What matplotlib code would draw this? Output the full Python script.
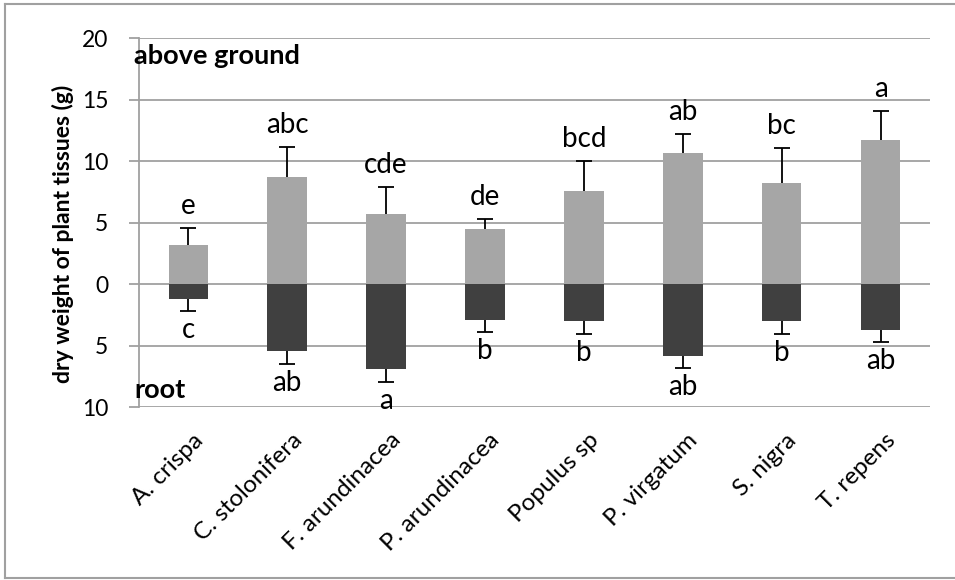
import matplotlib.pyplot as plt
import matplotlib.transforms as mtransforms
from matplotlib.lines import Line2D
import numpy as np

plt.rcParams['font.family'] = ['Lato', 'DejaVu Sans']

species = ["A. crispa", "C. stolonifera", "F. arundinacea", "P. arundinacea",
           "Populus sp", "P. virgatum", "S. nigra", "T. repens"]
above = [3.2, 8.7, 5.7, 4.5, 7.6, 10.7, 8.2, 11.7]
above_err = [1.4, 2.5, 2.2, 0.8, 2.4, 1.5, 2.9, 2.4]
root = [1.2, 5.4, 6.9, 2.9, 3.0, 5.8, 3.0, 3.7]
root_err = [1.0, 1.1, 1.0, 1.0, 1.0, 1.0, 1.0, 1.0]
above_letters = ["e", "abc", "cde", "de", "bcd", "ab", "bc", "a"]
root_letters = ["c", "ab", "a", "b", "b", "ab", "b", "ab"]

fig = plt.figure(figsize=(9.55, 5.8), dpi=100)
ax = fig.add_axes([0.1455, 0.2977, 0.8283, 0.6363])

x = np.arange(len(species))
neg_root = -np.array(root)
ax.bar(x, above, width=0.4, color='#a6a6a6', zorder=2)
ax.bar(x, neg_root, width=0.4, color='#404040', zorder=2)

# one-sided error bars, cap only at the far end
zero = np.zeros(len(x))
eb1 = ax.errorbar(x, above, yerr=[zero, above_err], fmt='none', ecolor='black',
                  elinewidth=1.3, capsize=5.5, capthick=1.3, zorder=3)
eb1[1][0].set_visible(False)
eb2 = ax.errorbar(x, neg_root, yerr=[root_err, zero], fmt='none', ecolor='black',
                  elinewidth=1.3, capsize=5.5, capthick=1.3, zorder=3)
eb2[1][1].set_visible(False)

up = mtransforms.offset_copy(ax.transData, fig=fig, x=0, y=14, units='dots')
down = mtransforms.offset_copy(ax.transData, fig=fig, x=0, y=-6, units='dots')
for i in range(len(x)):
    ax.text(x[i], above[i] + above_err[i], above_letters[i], transform=up,
            ha='center', va='baseline', fontsize=20)
    ax.text(x[i], neg_root[i] - root_err[i], root_letters[i], transform=down,
            ha='center', va='top', fontsize=20)

ax.set_xlim(-0.5, len(x) - 0.5)
ax.set_ylim(-10, 20)
yt = np.arange(-10, 21, 5)
ax.set_yticks(yt)
ax.set_yticklabels([str(abs(v)) for v in yt], fontsize=16.5)
ax.yaxis.grid(True, color='#a0a0a0', linewidth=1.3, zorder=0)
ax.tick_params(axis='y', length=7, width=1.3, color='#a0a0a0', pad=15)
ax.set_xticks([])

# rotated category labels
lab_tr = mtransforms.offset_copy(ax.get_xaxis_transform(), fig=fig,
                                 x=4, y=-22, units='dots')
for i in range(len(x)):
    ax.text(x[i], 0, species[i], transform=lab_tr, rotation=45,
            rotation_mode='anchor', ha='right', va='top', fontsize=17.5)

for s in ['top', 'right', 'bottom']:
    ax.spines[s].set_visible(False)
ax.spines['left'].set_color('#a0a0a0')
ax.spines['left'].set_linewidth(1.3)

ax.set_ylabel("dry weight of plant tissues (g)", fontsize=16.5, fontweight='bold')
ax.yaxis.set_label_coords(-0.082, 0.47)

ax.text(-0.006, 0.985, "above ground", transform=ax.transAxes, ha='left',
        va='top', fontsize=19.5, fontweight='bold')
ax.text(-0.006, 0.015, "root", transform=ax.transAxes, ha='left',
        va='bottom', fontsize=19.5, fontweight='bold')

# outer chart frame
fc = '#a0a0a0'
fig.add_artist(Line2D([5/955, 5/955], [2/580, 576/580], color=fc, lw=1.5))
fig.add_artist(Line2D([5/955, 1.0], [576/580, 576/580], color=fc, lw=1.5))
fig.add_artist(Line2D([5/955, 1.0], [2/580, 2/580], color=fc, lw=1.5))

fig.savefig("out.png", dpi=100)
